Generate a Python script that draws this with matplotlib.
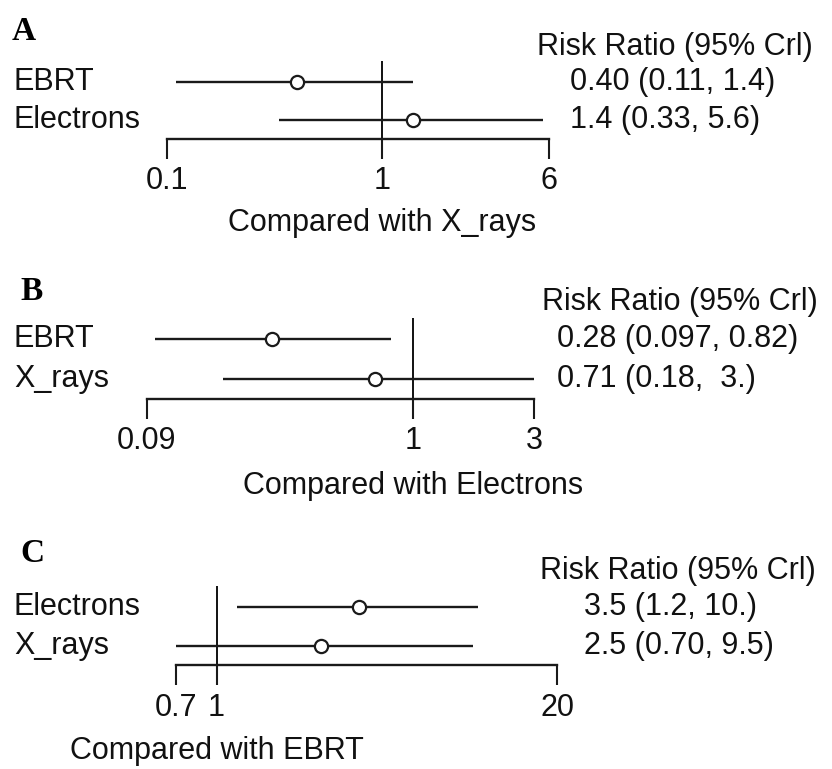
import matplotlib
matplotlib.use('Agg')
import matplotlib.pyplot as plt
import matplotlib.transforms as mtrans

plt.rcParams['font.family'] = ['Liberation Sans', 'DejaVu Sans']

W, H = 832, 769

# ---- data (risk ratios, 95% CrI) ----
panel_letters = ['A', 'B', 'C']
comparators = ['X_rays', 'Electrons', 'EBRT']

a_names = ['EBRT', 'Electrons']
a_est = [0.40, 1.4]
a_lo = [0.11, 0.33]
a_hi = [1.4, 5.6]
a_text = ['0.40 (0.11, 1.4)', '1.4 (0.33, 5.6)']
a_ticks = [0.1, 1, 6]
a_ticklabels = ['0.1', '1', '6']

b_names = ['EBRT', 'X_rays']
b_est = [0.28, 0.71]
b_lo = [0.097, 0.18]
b_hi = [0.82, 3.0]
b_text = ['0.28 (0.097, 0.82)', '0.71 (0.18,  3.)']
b_ticks = [0.09, 1, 3]
b_ticklabels = ['0.09', '1', '3']

c_names = ['Electrons', 'X_rays']
c_est = [3.5, 2.5]
c_lo = [1.2, 0.70]
c_hi = [10.0, 9.5]
c_text = ['3.5 (1.2, 10.)', '2.5 (0.70, 9.5)']
c_ticks = [0.7, 1, 20]
c_ticklabels = ['0.7', '1', '20']

rows = [2, 1]

fig = plt.figure(figsize=(W / 100, H / 100), dpi=100)


def fx(x):
    return x / W


def fy(y):
    return 1 - y / H


# pixel layout of each panel
layout = [
    dict(box=(167.3, 549, 61, 138.5), letter=(12, 31), header=(537, 47), valx=570, xlab_y=223),
    dict(box=(146.7, 534.3, 318, 398.5), letter=(20, 292), header=(542, 302), valx=557, xlab_y=486),
    dict(box=(176, 557.3, 586, 665), letter=(20, 553), header=(540, 571), valx=584, xlab_y=751),
]

panels = [
    (a_names, a_est, a_lo, a_hi, a_text, a_ticks, a_ticklabels),
    (b_names, b_est, b_lo, b_hi, b_text, b_ticks, b_ticklabels),
    (c_names, c_est, c_lo, c_hi, c_text, c_ticks, c_ticklabels),
]

for i, (names, est, lo, hi, txt, ticks, ticklabels) in enumerate(panels):
    L = layout[i]
    left, right, top, bottom = L['box']
    ax = fig.add_axes([fx(left), fy(bottom), (right - left) / W, (bottom - top) / H])
    ax.set_xscale('log')
    ax.set_xlim(ticks[0], ticks[-1])
    ax.set_ylim(0.5, 2.54)

    ax.hlines(rows, lo, hi, color='#1a1a1a', lw=1.7, clip_on=False, zorder=2)
    ax.axvline(1, color='#111111', lw=1.4, zorder=1)
    ax.plot(est, rows, 'o', ms=9.5, mfc='white', mec='#1a1a1a', mew=1.6,
            clip_on=False, zorder=3)

    for s in ['top', 'left', 'right']:
        ax.spines[s].set_visible(False)
    ax.spines['bottom'].set_linewidth(1.7)
    ax.spines['bottom'].set_color('#1a1a1a')
    ax.set_yticks([])
    ax.set_xticks(ticks)
    ax.set_xticklabels(ticklabels)
    ax.xaxis.set_minor_locator(matplotlib.ticker.NullLocator())
    ax.tick_params(axis='x', direction='out', length=14.5, width=1.5,
                   labelsize=22, pad=5.5, colors='#1a1a1a', labelcolor='#111111')
    ax.patch.set_visible(False)

    # row labels and values
    tr = mtrans.blended_transform_factory(fig.transFigure, ax.transData)
    for r, name, t in zip(rows, names, txt):
        ax.text(fx(14), r, name, transform=tr, fontsize=22, va='center', ha='left',
                color='#111111', clip_on=False)
        ax.text(fx(L['valx']), r, t, transform=tr, fontsize=22, va='center', ha='left',
                color='#111111', clip_on=False)

    fig.text(fx(L['header'][0]), fy(L['header'][1]), 'Risk Ratio (95% Crl)',
             fontsize=22, va='center', ha='left', color='#111111')
    fig.text(fx(L['letter'][0]), fy(L['letter'][1]), panel_letters[i],
             fontsize=24, fontweight='bold', family='Liberation Serif',
             va='center', ha='left', color='black')
    # x label centred under the line of no effect
    trx = mtrans.blended_transform_factory(ax.transData, fig.transFigure)
    ax.text(1, fy(L['xlab_y']), 'Compared with ' + comparators[i], transform=trx,
            fontsize=22, va='center', ha='center', color='#111111', clip_on=False)

fig.savefig('out.png', dpi=100, facecolor='white')
